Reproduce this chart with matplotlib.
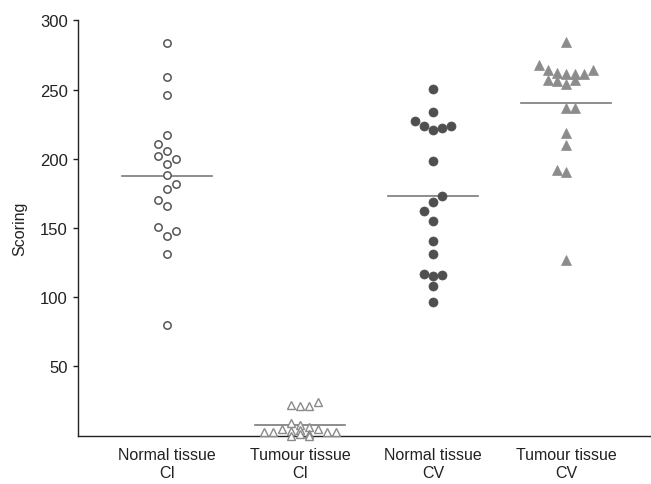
import matplotlib
matplotlib.use("Agg")
import matplotlib.pyplot as plt
import numpy as np

plt.rcParams['font.family'] = ['Liberation Sans', 'DejaVu Sans']

# ---- data ----
categories = ["Normal tissue\nCI", "Tumour tissue\nCI", "Normal tissue\nCV", "Tumour tissue\nCV"]

normal_ci = [284, 259, 246, 217, 211, 206, 202, 200, 196, 188, 182, 178, 170, 166, 151, 148, 144, 131, 80]
normal_ci_lane = [0, 0, 0, 0, -1, 0, -1, 1, 0, 0, 1, 0, -1, 0, -1, 1, 0, 0, 0]

tumour_ci = [22.2, 21.2, 21.6, 24.1, 2.9, 2.4, 4.5, 9.0, 3.5, 0.0, 7.7, 4.0, 1.5, 6.0, 1.5, 0.0, 5.0, 2.4, 2.9]
tumour_ci_lane = [-1, 0, 1, 2, -4, -3, -2, -1, -1, -1, 0, 0, 0, 1, 1, 1, 2, 3, 4]

normal_cv = [250.5, 234.1, 227.6, 224.0, 220.9, 222.1, 223.8, 198.5, 173.4, 169.1, 162.1, 155.1,
             140.7, 131.5, 117.1, 115.6, 116.3, 108.4, 96.4]
normal_cv_lane = [0, 0, -2, -1, 0, 1, 2, 0, 1, 0, -1, 0, 0, 0, -1, 0, 1, 0, 0]

tumour_cv = [284.2, 267.8, 264.0, 261.8, 261.1, 261.6, 261.1, 264.5, 257.2, 256.5, 257.2, 254.1,
             236.8, 236.8, 218.7, 209.8, 191.8, 190.5, 127.0]
tumour_cv_lane = [0, -3, -2, -1, 0, 1, 2, 3, -2, -1, 1, 0, 0, 1, 0, 0, -1, 0, 0]

yticks = [50, 100, 150, 200, 250, 300]

# ---- figure ----
fig = plt.figure(figsize=(6.51, 4.85), dpi=100)
ax = fig.add_axes([0.1198, 0.0996, 0.8802, 0.8561])

lane_step = 0.068
half_w = 0.335

groups = [
    (normal_ci, normal_ci_lane, dict(marker='o', ms=5.3, mfc='white', mec='#555555', mew=1.1)),
    (tumour_ci, tumour_ci_lane, dict(marker='^', ms=5.3, mfc='white', mec='#8a8a8a', mew=1.0)),
    (normal_cv, normal_cv_lane, dict(marker='o', ms=6.5, mfc='#4f4f4f', mec='#4f4f4f', mew=0.5)),
    (tumour_cv, tumour_cv_lane, dict(marker='^', ms=6.5, mfc='#8c8c8c', mec='#8c8c8c', mew=0.5)),
]

for i, (vals, lanes, style) in enumerate(groups):
    vals = np.asarray(vals, dtype=float)
    xs = i + np.asarray(lanes) * lane_step
    m = vals.mean()
    ax.plot([i - half_w, i + half_w], [m, m], color='#7a7a7a', lw=1.2, zorder=2)
    ax.plot(xs, vals, linestyle='none', zorder=3, clip_on=False, **style)

ax.set_xlim(-0.669, 3.639)
ax.set_ylim(0, 300)
ax.set_yticks(yticks)
ax.set_yticklabels([str(t) for t in yticks])
ax.set_xticks(range(len(categories)))
ax.set_xticklabels(categories, fontsize=11.5, linespacing=1.3)
ax.tick_params(axis='x', length=0, pad=8, colors='#222222')
ax.tick_params(axis='y', length=3.5, width=1.0, pad=4, labelsize=12, colors='#222222')
ax.set_ylabel("Scoring", fontsize=11.5, color='#222222', labelpad=9)

for s in ['top', 'right']:
    ax.spines[s].set_visible(False)
for s in ['left', 'bottom']:
    ax.spines[s].set_color('#222222')
    ax.spines[s].set_linewidth(1.0)

fig.savefig("out.png", dpi=100)
